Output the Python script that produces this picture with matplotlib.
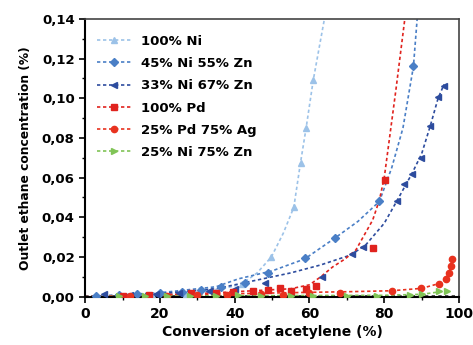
import matplotlib
matplotlib.use("Agg")
import matplotlib.pyplot as plt
from matplotlib.ticker import FuncFormatter, MultipleLocator

# markers (x = conversion %, y = ethane %)
ni_x = [3, 10, 18, 27, 35, 42, 49.8, 55.8, 57.6, 59.1, 61]
ni_y = [0.0003, 0.0005, 0.001, 0.0015, 0.003, 0.0065, 0.020, 0.045, 0.0675, 0.085, 0.109]

ni45_x = [3, 9, 14, 20, 26, 31, 36.4, 42.7, 49, 58.7, 66.7, 78.7, 87.8]
ni45_y = [0.0005, 0.001, 0.0012, 0.0018, 0.0025, 0.0035, 0.005, 0.0068, 0.012, 0.0195, 0.0294, 0.048, 0.116]

ni33_x = [5, 12, 19, 25, 33, 40, 48, 63.3, 71.3, 74.2, 83.3, 85.3, 87.4, 89.8, 92.3, 94.4, 96]
ni33_y = [0.0015, 0.001, 0.0015, 0.002, 0.003, 0.004, 0.007, 0.0098, 0.0213, 0.0248, 0.048, 0.0566,
          0.0618, 0.070, 0.086, 0.1008, 0.106]

pd_x = [10, 17, 28.4, 35, 39.6, 44.9, 48.9, 52, 55, 59.1, 61.8, 76.9, 80.2]
pd_y = [0.0005, 0.001, 0.0018, 0.002, 0.0025, 0.003, 0.0035, 0.0042, 0.003, 0.0037, 0.0054, 0.0245, 0.059]

pdag_x = [12, 22, 30, 38, 47, 53, 60, 68.2, 82, 89.8, 94.6, 96.4, 97.3, 97.8, 98.2]
pdag_y = [0.0003, 0.0005, 0.0008, 0.001, 0.0015, 0.001, 0.002, 0.002, 0.003, 0.0042, 0.0066, 0.0089,
          0.0121, 0.0156, 0.0188]

nizn_x = [9, 16, 22, 28, 35, 41, 47, 55, 61, 70, 78, 87, 90, 94.7, 96.9]
nizn_y = [0.0003, 0.0005, 0.0002, 0.0002, 0.0005, 0.0008, 0.0006, 0.0004, 0.0003, 0.0005, 0.0005,
          0.0009, 0.0014, 0.003, 0.003]

# trend curves
ni_tx = [0, 20, 35, 42, 46, 49.8, 53, 55.8, 57.6, 59.1, 61, 64]
ni_ty = [0, 0.001, 0.003, 0.0065, 0.012, 0.020, 0.032, 0.045, 0.0675, 0.085, 0.109, 0.14]

ni45_tx = [0, 20, 35, 41, 50, 58.7, 66.7, 73, 78.7, 82, 85, 87.8, 88.8]
ni45_ty = [0, 0.002, 0.005, 0.009, 0.013, 0.019, 0.0294, 0.038, 0.048, 0.065, 0.085, 0.116, 0.14]

ni33_tx = [0, 20, 35, 45, 55, 63, 71, 75, 80, 83.3, 87.4, 90, 92.3, 94.4, 96]
ni33_ty = [0, 0.0015, 0.004, 0.008, 0.012, 0.016, 0.021, 0.026, 0.037, 0.048, 0.062, 0.072, 0.086, 0.1, 0.107]

pd_tx = [0, 30, 45, 55, 60, 63, 66.2, 69.5, 72.4, 76.9, 78.7, 80, 83.1, 85.5]
pd_ty = [0, 0.0015, 0.003, 0.004, 0.006, 0.010, 0.015, 0.019, 0.0235, 0.0386, 0.0487, 0.060, 0.104, 0.14]

pdag_tx = [0, 40, 60, 70, 82, 90, 94.6, 96.4, 97.3, 97.8, 98.2]
pdag_ty = [0, 0.0015, 0.0022, 0.0025, 0.003, 0.0042, 0.0066, 0.0089, 0.0121, 0.0156, 0.0188]

nizn_tx = [0, 40, 80, 90, 95, 97]
nizn_ty = [0, 0.0005, 0.0007, 0.0012, 0.0025, 0.003]

base_x = [0, 100]
base_y = [0.0004, 0.0004]

series = [
    ("100% Ni", ni_x, ni_y, ni_tx, ni_ty, "^", "#9cc2e8", 4.5),
    ("45% Ni 55% Zn", ni45_x, ni45_y, ni45_tx, ni45_ty, "D", "#4a7fc6", 4),
    ("33% Ni 67% Zn", ni33_x, ni33_y, ni33_tx, ni33_ty, "<", "#2d4c9e", 4.5),
    ("100% Pd", pd_x, pd_y, pd_tx, pd_ty, "s", "#e0231e", 4),
    ("25% Pd 75% Ag", pdag_x, pdag_y, pdag_tx, pdag_ty, "o", "#e8321f", 4.5),
    ("25% Ni 75% Zn", nizn_x, nizn_y, nizn_tx, nizn_ty, ">", "#80c456", 4.5),
]

plt.rcParams["font.family"] = "DejaVu Sans"
plt.rcParams["font.weight"] = "bold"

fig = plt.figure(figsize=(4.73, 3.45), dpi=100)
ax = fig.add_axes([0.18, 0.14, 0.7905, 0.8055])

ax.plot(base_x, base_y, color="#333333", lw=1.2, ls=(0, (2, 2)), zorder=1)

for label, x, y, tx, ty, m, c, ms in series:
    ax.plot(tx, ty, color=c, lw=1.2, ls=(0, (2, 1.6)), zorder=2)
    ax.plot(x, y, ls="none", marker=m, color=c, ms=ms, mec=c, zorder=3)
    ax.plot([], [], color=c, lw=1.2, ls=(0, (2, 1.6)), marker=m, ms=ms, label=label)

ax.set_xlim(0, 100)
ax.set_ylim(0, 0.14)
ax.xaxis.set_major_locator(MultipleLocator(20))
ax.xaxis.set_minor_locator(MultipleLocator(10))
ax.yaxis.set_major_locator(MultipleLocator(0.02))
ax.yaxis.set_minor_locator(MultipleLocator(0.01))
ax.yaxis.set_major_formatter(FuncFormatter(lambda v, p: f"{v:.2f}".replace(".", ",")))
ax.tick_params(which="major", length=4, width=1.2, labelsize=9.5, direction="out")
ax.tick_params(axis="x", which="major", labelsize=10)
ax.tick_params(which="minor", length=2.5, width=1)
for lbl in ax.get_xticklabels() + ax.get_yticklabels():
    lbl.set_fontweight("bold")

for s in ["left", "bottom"]:
    ax.spines[s].set_linewidth(1.5)
for s in ["top", "right"]:
    ax.spines[s].set_linewidth(1.2)
    ax.spines[s].set_color("#444444")

ax.set_xlabel("Conversion of acetylene (%)", fontsize=10, fontweight="bold", labelpad=3)
ax.set_ylabel("Outlet ethane concentration (%)", fontsize=8.8, fontweight="bold", labelpad=7)

leg = ax.legend(loc="upper left", bbox_to_anchor=(0.0, 0.985), frameon=False, fontsize=9.5,
                handlelength=2.6, labelspacing=0.7, borderaxespad=0.5, handletextpad=0.7)
for t in leg.get_texts():
    t.set_fontweight("bold")

fig.savefig("out.png", dpi=100)
